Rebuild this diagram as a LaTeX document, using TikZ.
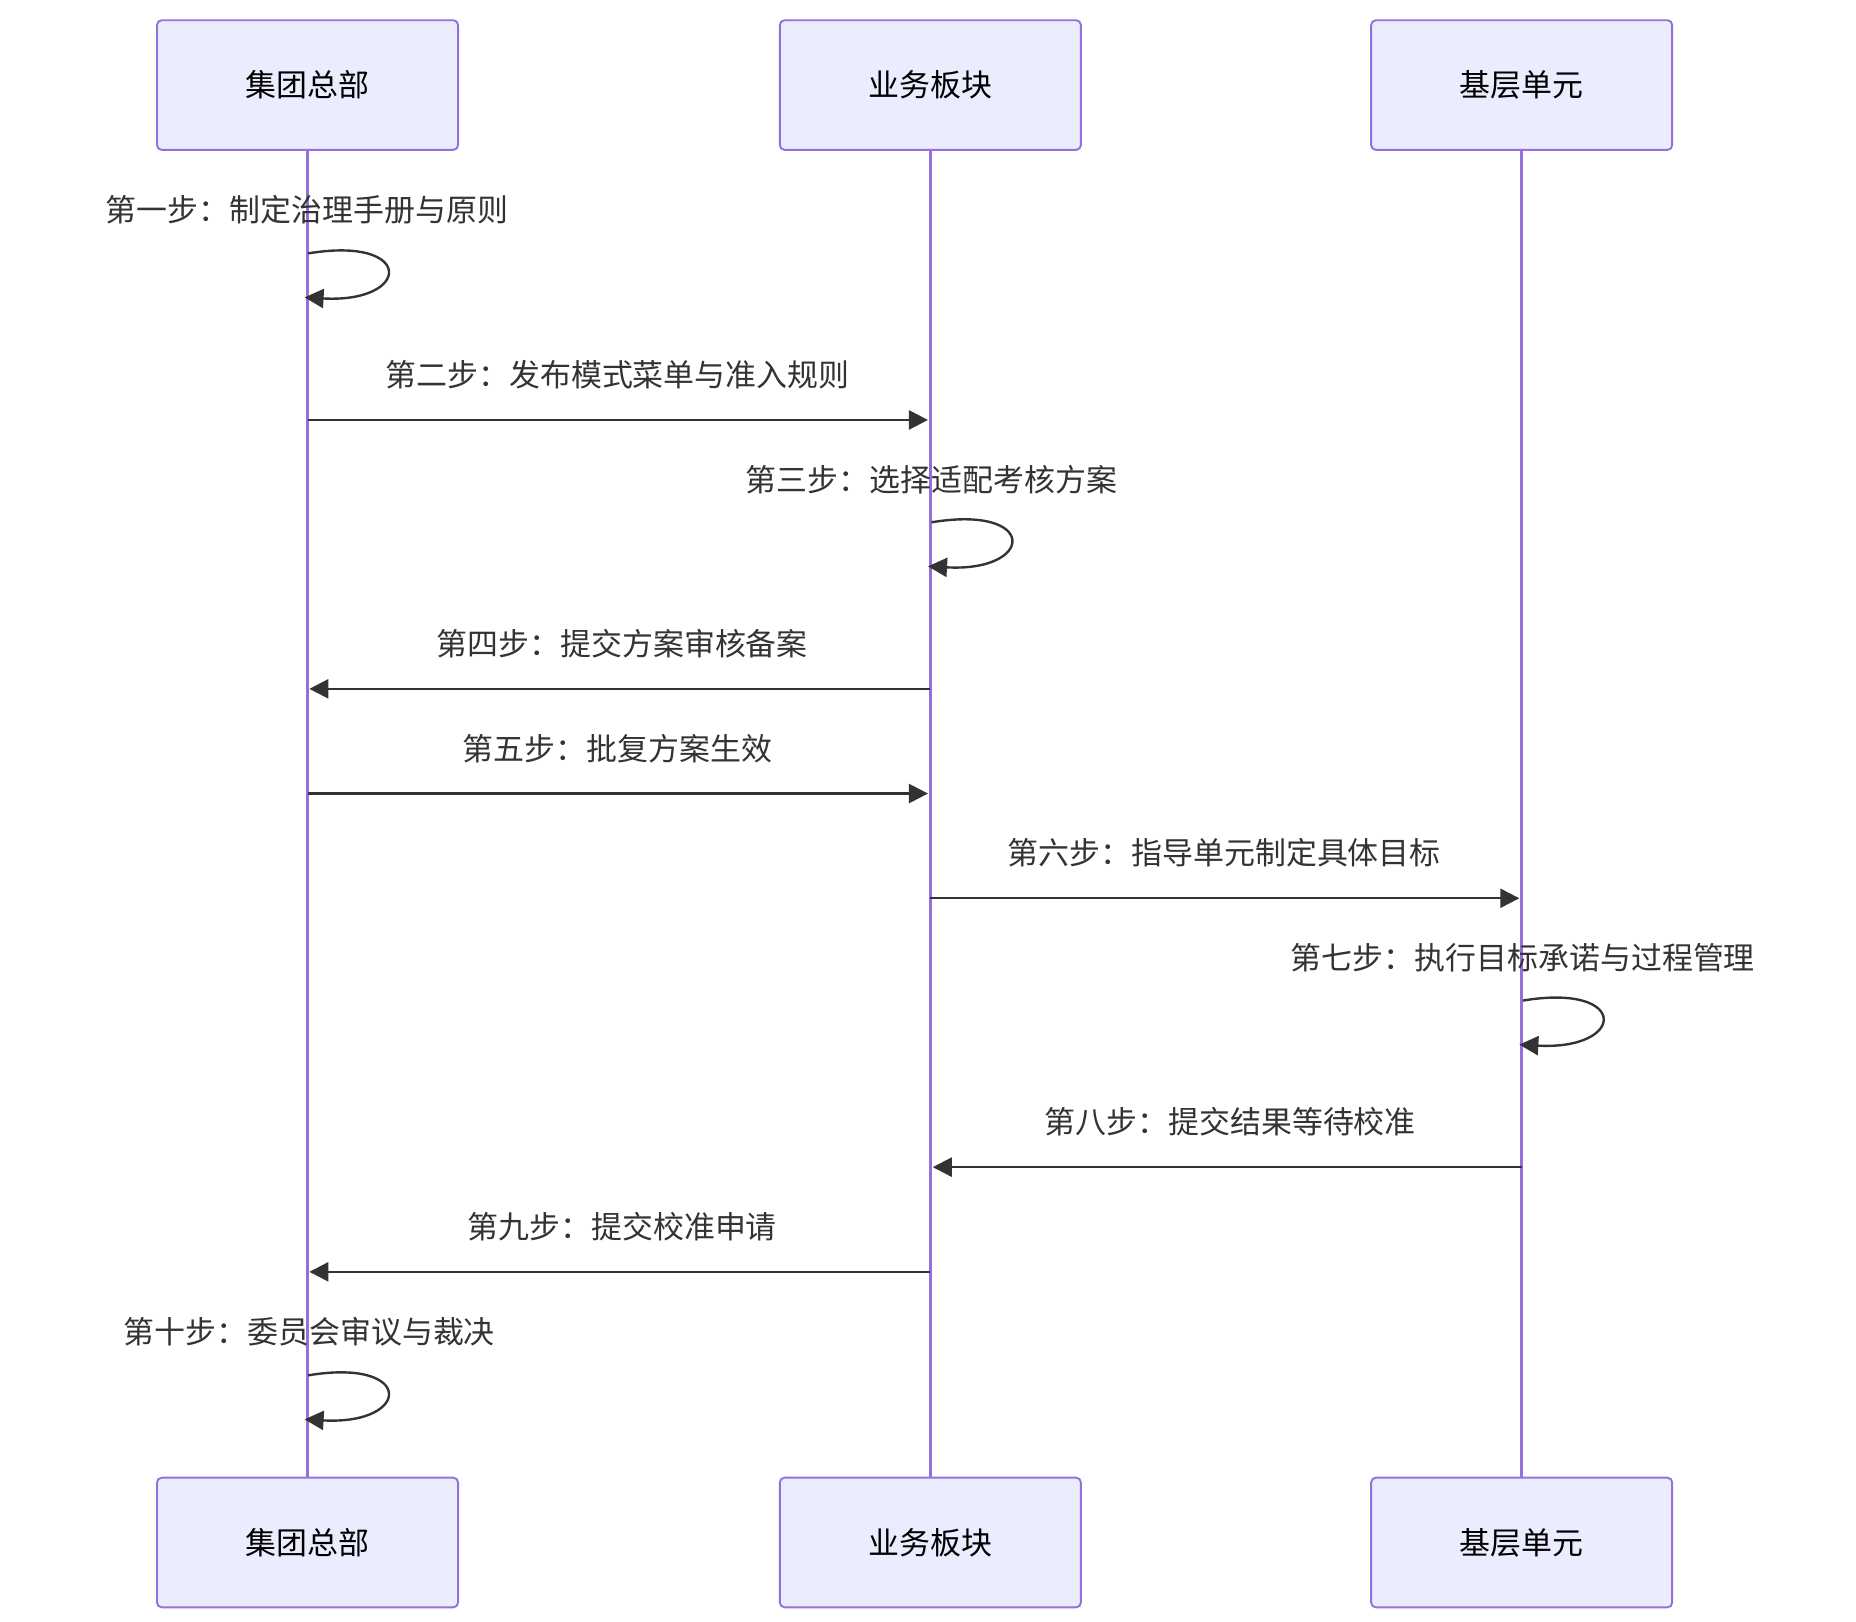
\documentclass[tikz,border=0pt]{standalone}
\usepackage{fontspec}
\setmainfont{Noto Sans CJK SC}
\usetikzlibrary{arrows.meta}
\definecolor{actfill}{HTML}{ECECFF}
\definecolor{actdraw}{HTML}{9370DB}
\definecolor{msg}{HTML}{333333}
\begin{document}
\begin{tikzpicture}[x=0.5pt,y=-0.5pt,
  actor/.style={draw=actdraw,fill=actfill,line width=0.8pt,rounded corners=2pt,minimum width=126.5pt,minimum height=54.5pt,font=\fontsize{13}{15}\selectfont,text=black},
  life/.style={draw=actdraw,line width=1.2pt},
  lbl/.style={font=\fontsize{13}{15}\selectfont,text=msg},
  arr/.style={draw=msg,line width=1pt,-{Triangle[length=8pt,width=8pt]}}]
\useasboundingbox (0,0) rectangle (1560,1363);
\foreach \n/\x/\t in {a/258.5/集团总部,b/782/业务板块,c/1279/基层单元}{
  \node[actor] (\n top) at (\x,71.5) {\t};
  \node[actor] (\n bot) at (\x,1296.5) {\t};
  \draw[life] (\n top.south) -- (\n bot.north);
}
% self loop macro-like
\foreach \x/\y/\t in {258/176/第一步：制定治理手册与原则,783/403/第三步：选择适配考核方案,1280/805/第七步：执行目标承诺与过程管理,260/1119/第十步：委员会审议与裁决}{
  \node[lbl] at (\x,\y) {\t};
}
\coordinate (l1s) at (259,213); \coordinate (l1e) at (256,250);
\coordinate (l3s) at (783,439); \coordinate (l3e) at (780,476);
\coordinate (l7s) at (1280,841); \coordinate (l7e) at (1277,878);
\coordinate (l10s) at (259,1156); \coordinate (l10e) at (256,1193);
\foreach \p in {l1,l3,l7,l10}{
  \draw[arr] (\p s) .. controls +(90,-15) and +(90,5) .. (\p e);
}
\node[lbl] at (519,315) {第二步：发布模式菜单与准入规则};
\draw[arr] (atop.south |- 0,353) -- (782-2,353);
\node[lbl] at (523,541) {第四步：提交方案审核备案};
\draw[arr] (btop.south |- 0,579) -- (258+2,579);
\node[lbl] at (519,629) {第五步：批复方案生效};
\draw[arr] (atop.south |- 0,667) -- (782-2,667);
\node[lbl] at (1029,717) {第六步：指导单元制定具体目标};
\draw[arr] (btop.south |- 0,755) -- (1279-2,755);
\node[lbl] at (1034,943) {第八步：提交结果等待校准};
\draw[arr] (ctop.south |- 0,981) -- (782+2,981);
\node[lbl] at (523,1031) {第九步：提交校准申请};
\draw[arr] (btop.south |- 0,1069) -- (258+2,1069);
\end{tikzpicture}
\end{document}
